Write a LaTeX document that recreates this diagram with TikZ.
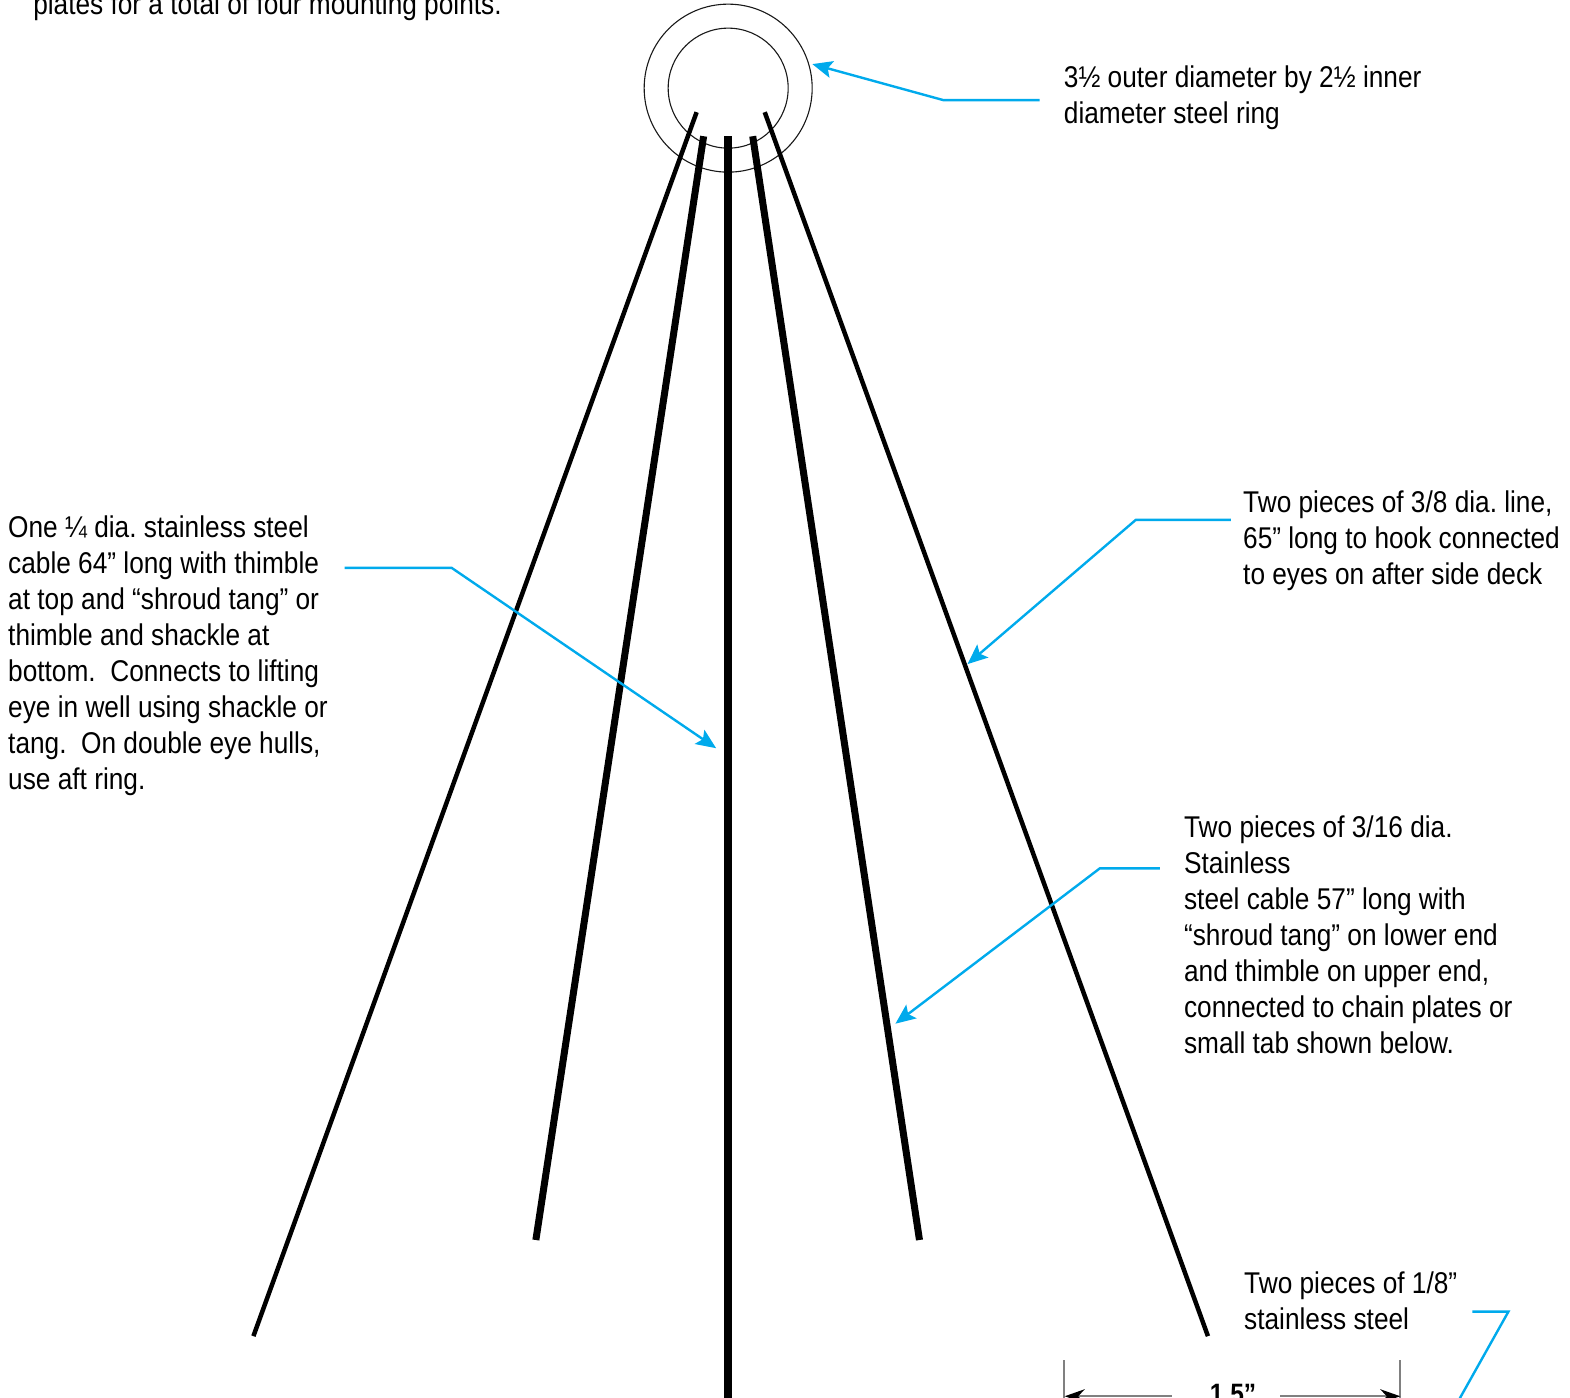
\documentclass[tikz,border=0pt]{standalone}
\usepackage{fontspec}
\setmainfont[FakeStretch=0.875]{Liberation Sans}
\usetikzlibrary{arrows.meta}
\definecolor{lead}{RGB}{0,170,236}
\tikzset{
  note/.style={anchor=north west,inner sep=0pt,align=left,font=\fontsize{30}{36}\selectfont\frenchspacing,text=black},
  leader/.style={draw=lead,line width=2.4pt,-{Stealth[length=20pt,width=17pt,inset=4pt]}},
  leaderplain/.style={draw=lead,line width=2.4pt},
  cord/.style={draw=black,line cap=butt},
  ring/.style={draw=black!90,line width=1.1pt,circle,minimum size=#1,inner sep=0pt},
  dim/.style={draw=black!50,line width=1.6pt},
}
\begin{document}
\begin{tikzpicture}[x=1.0016pt,y=-1.0016pt]
\useasboundingbox (0pt,0pt) rectangle (1570pt,-1397pt);
\clip (0pt,0pt) rectangle (1570pt,-1397pt);
% ring
\node[ring=168pt] (outer) at (727,88) {};
\node[ring=120pt] (inner) at (727,88) {};
% cords
\coordinate (c1t) at (695.5,112); \coordinate (c1b) at (253,1334);
\coordinate (c2t) at (702.5,136); \coordinate (c2b) at (535,1238);
\coordinate (c3t) at (727,136);   \coordinate (c3b) at (727,1397);
\coordinate (c4t) at (751.5,136); \coordinate (c4b) at (918,1238);
\coordinate (c5t) at (763.5,112); \coordinate (c5b) at (1206,1334);
\draw[cord,line width=4.5pt] (c1t) -- (c1b);
\draw[cord,line width=7pt] (c2t) -- (c2b);
\draw[cord,line width=8.5pt] (c3t) -- (c3b);
\draw[cord,line width=7pt] (c4t) -- (c4b);
\draw[cord,line width=4.5pt] (c5t) -- (c5b);
% texts
\node[note] (top) at (33,-7) {plates for a total of four mounting points.};
\node[note] (ringtxt) at (1062,65) {3½ outer diameter by 2½ inner\\diameter steel ring};
\node[note] (cable) at (8,515) {One ¼ dia. stainless steel\\cable 64” long with thimble\\at top and “shroud tang” or\\thimble and shackle at\\bottom.\ \ Connects to lifting\\eye in well using shackle or\\tang.\ \ On double eye hulls,\\use aft ring.};
\node[note] (line) at (1241,490) {Two pieces of 3/8 dia. line,\\65” long to hook connected\\to eyes on after side deck};
\node[note] (stain) at (1182,814) {Two pieces of 3/16 dia.\\Stainless\\steel cable 57” long with\\“shroud tang” on lower end\\and thimble on upper end,\\connected to chain plates or\\small tab shown below.};
\node[note] (eighth) at (1242,1270) {Two pieces of 1/8”\\stainless steel};
% leaders
\coordinate (a1s) at (1038,100); \coordinate (a1k) at (942,100); \coordinate (a1e) at (811,64);
\coordinate (a2s) at (344,567); \coordinate (a2k) at (451,567); \coordinate (a2e) at (715,747);
\coordinate (a3s) at (1229,519); \coordinate (a3k) at (1134,519); \coordinate (a3e) at (966,663);
\coordinate (a4s) at (1158,867); \coordinate (a4k) at (1098,867); \coordinate (a4e) at (894,1022);
\coordinate (a5s) at (1470,1309.5); \coordinate (a5k) at (1506,1309.5); \coordinate (a5e) at (1453,1404);
\draw[leader] (a1s) -- (a1k) -- (a1e);
\draw[leader] (a2s) -- (a2k) -- (a2e);
\draw[leader] (a3s) -- (a3k) -- (a3e);
\draw[leader] (a4s) -- (a4k) -- (a4e);
\draw[leaderplain] (a5s) -- (a5k) -- (a5e);
% dimension
\coordinate (d1t) at (1062.5,1358); \coordinate (d1b) at (1062.5,1397);
\coordinate (d2t) at (1398,1358); \coordinate (d2b) at (1398,1397);
\coordinate (dl) at (1063,1394); \coordinate (dr) at (1398,1394);
\node[anchor=north,inner sep=0pt,font=\bfseries\fontsize{28}{32}\selectfont] (dimtxt) at (1231,1382) {1.5”};
\coordinate (dlg) at (1170,1394); \coordinate (drg) at (1278,1394);
\draw[dim] (d1t) -- (d1b);
\draw[dim] (d2t) -- (d2b);
\draw[dim,{Stealth[length=20pt,width=14pt,black]}-] (dl) -- (dlg);
\draw[dim,-{Stealth[length=20pt,width=14pt,black]}] (drg) -- (dr);
\end{tikzpicture}
\end{document}
